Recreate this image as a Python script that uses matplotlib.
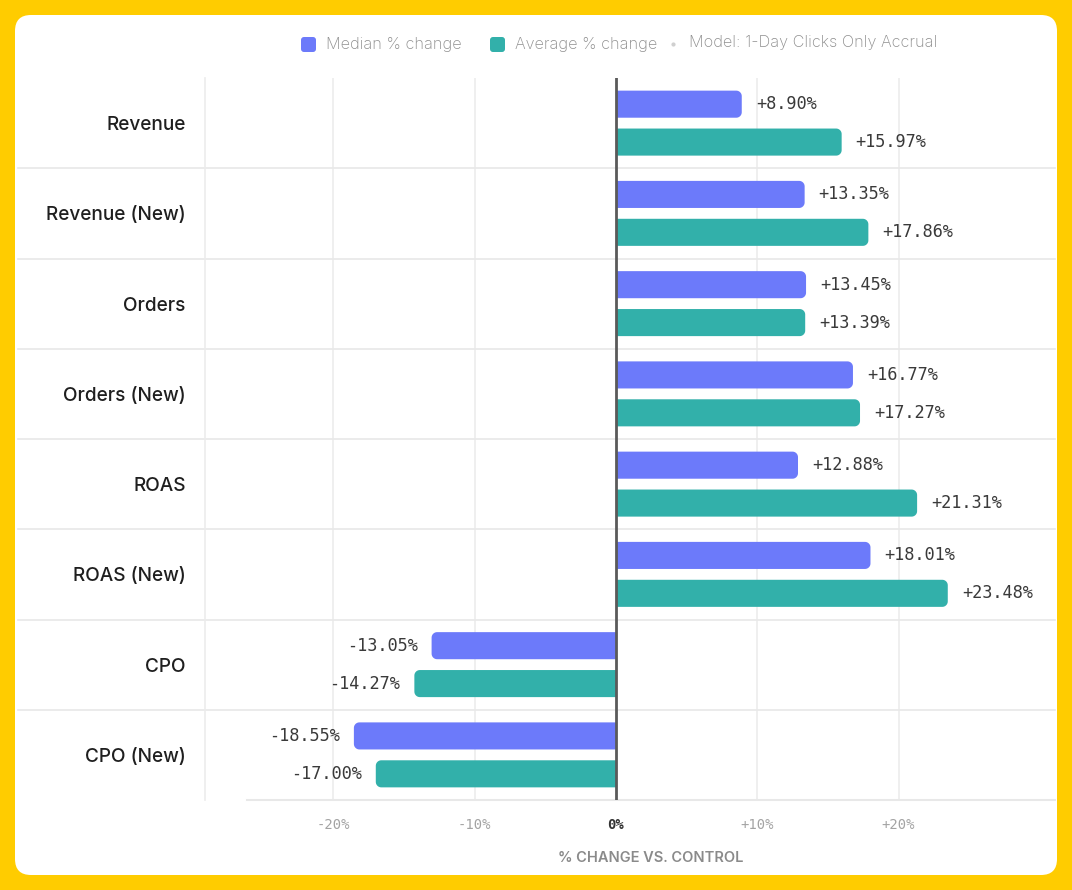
import numpy as np
import matplotlib
matplotlib.use("Agg")
import matplotlib.pyplot as plt
from matplotlib.patches import FancyBboxPatch, Polygon

# data
categories = ["Revenue", "Revenue (New)", "Orders", "Orders (New)",
              "ROAS", "ROAS (New)", "CPO", "CPO (New)"]
median_change = [8.90, 13.35, 13.45, 16.77, 12.88, 18.01, -13.05, -18.55]
average_change = [15.97, 17.86, 13.39, 17.27, 21.31, 23.48, -14.27, -17.00]
series_names = ["Median % change", "Average % change"]
model_note = "Model: 1-Day Clicks Only Accrual"
xticks = [-20, -10, 0, 10, 20]
xtick_labels = ["-20%", "-10%", "0%", "+10%", "+20%"]

c_median = "#6C7AFA"
c_average = "#32B0AA"
yellow = "#FFCC00"

W, H = 1072, 890
fig = plt.figure(figsize=(W / 100, H / 100), dpi=100)
fig.patch.set_facecolor(yellow)

# white card behind everything (pixel coordinates)
bg = fig.add_axes([0, 0, 1, 1])
bg.set_xlim(0, W)
bg.set_ylim(H, 0)
bg.axis("off")
bg.add_patch(FancyBboxPatch((15, 15), 1042, 860, boxstyle="round,pad=0,rounding_size=16",
                            fc="white", ec="none"))

# plot area in pixels: x 205..1055, y 78..800
left_px, right_px, top_px, bot_px = 205, 1055, 78, 800
ax = fig.add_axes([left_px / W, 1 - bot_px / H, (right_px - left_px) / W, (bot_px - top_px) / H])
ax.set_facecolor("none")

px_per_pct = 14.13
ax.set_xlim((left_px - 616) / px_per_pct, (right_px - 616) / px_per_pct)
n = len(categories)
ax.set_ylim(n - 0.5, -0.5)
px_per_cat = (bot_px - top_px) / n

bar_h = 0.30
rx = 5.5 / px_per_pct
ry = 5.5 / px_per_cat


def rounded_bar(y, v, color):
    # square at zero, rounded corners at the far end
    s = 1 if v > 0 else -1
    y0, y1 = y - bar_h / 2, y + bar_h / 2
    t = np.linspace(0, np.pi / 2, 12)
    pts = [(0, y0)]
    pts += [(v - s * rx + s * rx * np.sin(a), y0 + ry - ry * np.cos(a)) for a in t]
    pts += [(v - s * rx + s * rx * np.cos(a), y1 - ry + ry * np.sin(a)) for a in t]
    pts += [(0, y1)]
    ax.add_patch(Polygon(pts, closed=True, fc=color, ec="none", zorder=2))


def value_label(y, v):
    gap = 14 / px_per_pct
    ax.text(v + gap if v > 0 else v - gap, y, f"{v:+.2f}%",
            ha="left" if v > 0 else "right", va="center",
            family="DejaVu Sans Mono", fontsize=12.2, color="#3a3a3a", zorder=4)


y = np.arange(n)
for i in range(n):
    rounded_bar(y[i] - 0.21, median_change[i], c_median)
    rounded_bar(y[i] + 0.21, average_change[i], c_average)
    value_label(y[i] - 0.21, median_change[i])
    value_label(y[i] + 0.21, average_change[i])

# grid
for t in xticks:
    if t != 0:
        ax.axvline(t, color="#ececec", lw=1.2, zorder=0)
for b in np.arange(0.5, n - 0.5, 1):
    ax.axhline(b, xmin=(18 - left_px) / (right_px - left_px), xmax=1,
               color="#e8e8e8", lw=1.2, clip_on=False, zorder=0)
ax.axhline(n - 0.5, xmin=(247 - left_px) / (right_px - left_px), xmax=1,
           color="#e8e8e8", lw=1.5, clip_on=False, zorder=0)
ax.axvline(0, color="#5a5a5a", lw=2, zorder=3)

for s in ["top", "right", "bottom"]:
    ax.spines[s].set_visible(False)
ax.spines["left"].set_color("#ececec")
ax.spines["left"].set_linewidth(1.2)

ax.set_xticks(xticks)
ax.set_xticklabels(xtick_labels, family="DejaVu Sans Mono", fontsize=10, color="#a3a3a3")
for lab in ax.get_xticklabels():
    if lab.get_text() == "0%":
        lab.set_color("#333333")
        lab.set_fontweight("bold")
ax.tick_params(axis="x", length=0, pad=13)
ax.set_yticks(y)
ax.set_yticklabels(categories, family="Inter", fontweight="medium", fontsize=13.7, color="#1f1f1f")
ax.tick_params(axis="y", length=0, pad=14)

ax.set_xlabel("% CHANGE VS. CONTROL", family="Inter", fontweight="semibold",
              fontsize=10.5, color="#8a8a8a")
ax.xaxis.set_label_coords((651 - left_px) / (right_px - left_px), -0.070)

# legend across the top
for (x0, name, c) in [(301, series_names[0], c_median), (490, series_names[1], c_average)]:
    bg.add_patch(FancyBboxPatch((x0, 37), 15, 15, boxstyle="round,pad=0,rounding_size=3",
                                fc=c, ec="none"))
    bg.text(x0 + 25, 45, name, family="Inter", fontweight="light", fontsize=11.7,
            color="#8e8e8e", va="center", ha="left")
bg.plot([673], [44], marker="o", ms=2, color="#d0d0d0")
bg.text(689, 43, model_note, family="Inter", fontweight="light", fontsize=11.7,
        color="#8e8e8e", va="center", ha="left")

fig.savefig("out.png", dpi=100, facecolor=yellow)
